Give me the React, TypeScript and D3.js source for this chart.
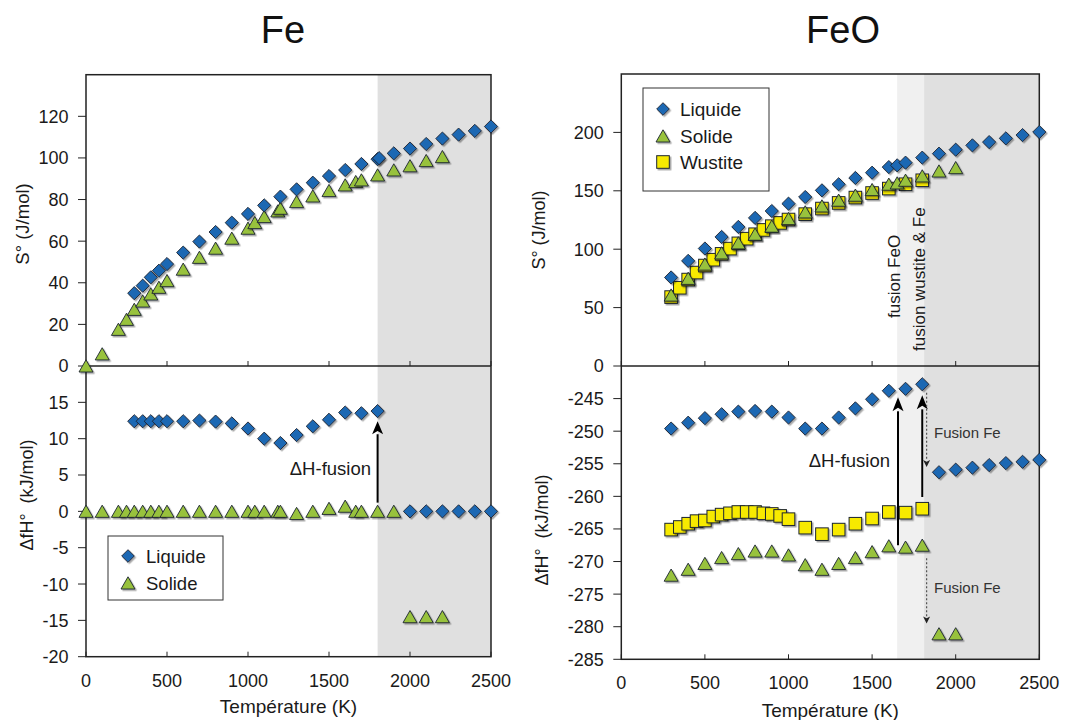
import React from "react";
import * as d3 from "d3";

// ---------- DATA ----------
// Fe – entropy
const feLiqST = [298, 350, 400, 450, 500, 600, 700, 800, 900, 1000, 1100, 1200, 1300, 1400, 1500, 1600, 1700, 1800, 1809, 1900, 2000, 2100, 2200, 2300, 2400, 2500];
const feLiqS = [35.0, 38.6, 42.6, 45.8, 49.0, 54.5, 59.8, 64.4, 68.9, 73.1, 77.2, 81.4, 84.9, 88.1, 91.3, 94.2, 97.1, 99.4, 99.9, 102.2, 104.5, 106.7, 109.3, 111.2, 113.0, 115.1];
const feSolT = [0, 100, 200, 250, 298, 350, 400, 450, 500, 600, 700, 800, 900, 1000, 1042, 1100, 1184, 1200, 1300, 1400, 1500, 1600, 1665, 1700, 1800, 1900, 2000, 2100, 2200];
const feSolS = [0, 5.8, 17.6, 22.4, 27.2, 31.2, 34.6, 37.8, 41.0, 46.5, 52.2, 56.6, 61.4, 66.2, 68.9, 71.8, 74.5, 75.8, 79.0, 81.7, 84.3, 87.0, 88.6, 89.4, 91.8, 94.2, 96.2, 98.7, 100.6];
// Fe – enthalpy of formation
const feLiqHT = [298, 350, 400, 450, 500, 600, 700, 800, 900, 1000, 1100, 1200, 1300, 1400, 1500, 1600, 1700, 1800, 2000, 2100, 2200, 2300, 2400, 2500];
const feLiqH = [12.4, 12.4, 12.4, 12.4, 12.4, 12.4, 12.5, 12.35, 12.1, 11.4, 10.0, 9.4, 10.5, 11.7, 12.6, 13.6, 13.5, 13.8, 0, 0, 0, 0, 0, 0];
const feSolH = [0, 0, 0, 0, 0, 0, 0, 0, 0, 0, 0, 0, 0, 0, 0, 0, 0, 0, -0.3, 0, 0.4, 0.7, 0, 0, 0, 0, -14.5, -14.5, -14.5];

// FeO – entropy
const feoLiqST = [298, 400, 500, 600, 700, 800, 900, 1000, 1100, 1200, 1300, 1400, 1500, 1600, 1650, 1700, 1800, 1900, 2000, 2100, 2200, 2300, 2400, 2500];
const feoLiqS = [75.8, 90.0, 100.6, 110.5, 119.1, 126.8, 132.7, 139.0, 144.7, 150.4, 155.6, 161.0, 165.5, 170.3, 171.8, 174.1, 178.4, 181.8, 185.2, 188.9, 191.7, 194.9, 197.7, 200.3];
const feoSolST = [298, 400, 500, 600, 700, 800, 900, 1000, 1100, 1200, 1300, 1400, 1500, 1600, 1650, 1700, 1800, 1900, 2000];
const feoSolS = [60.7, 75.0, 87.2, 96.8, 105.4, 112.8, 119.7, 126.2, 131.9, 137.0, 141.9, 146.2, 151.0, 155.6, 156.7, 159.0, 162.7, 166.9, 169.8];
const wusT = [298, 350, 400, 450, 500, 550, 600, 650, 700, 750, 800, 850, 900, 950, 1000, 1100, 1200, 1300, 1400, 1500, 1600, 1700, 1800];
const wusS = [59, 67, 74, 80, 86, 91, 96, 100.5, 105, 109, 112.8, 116.5, 119.7, 122.5, 125.4, 130, 134.8, 139.6, 144.2, 148.1, 151.9, 155.6, 159.0];
// FeO – enthalpy of formation
const feoLiqHT = [298, 400, 500, 600, 700, 800, 900, 1000, 1100, 1200, 1300, 1400, 1500, 1600, 1700, 1800, 1900, 2000, 2100, 2200, 2300, 2400, 2500];
const feoLiqH = [-249.6, -248.7, -248.0, -247.4, -247.0, -246.9, -247.0, -247.9, -249.6, -249.6, -247.9, -246.5, -245.1, -243.8, -243.5, -242.8, -256.3, -255.9, -255.6, -255.2, -254.9, -254.7, -254.4];
const feoSolHT = [298, 400, 500, 600, 700, 800, 900, 1000, 1100, 1200, 1300, 1400, 1500, 1600, 1700, 1800, 1900, 2000];
const feoSolH = [-272.1, -271.2, -270.3, -269.4, -268.8, -268.4, -268.4, -269.0, -270.5, -271.2, -270.3, -269.4, -268.5, -267.6, -267.8, -267.5, -281.1, -281.1];
const wusH = [-265.1, -264.7, -264.2, -263.8, -263.7, -263.1, -262.8, -262.6, -262.4, -262.4, -262.4, -262.6, -262.7, -263.0, -263.5, -264.8, -265.8, -265.1, -264.2, -263.4, -262.4, -262.5, -261.9];

const xTicks = [0, 500, 1000, 1500, 2000, 2500];
const feSTicks = [0, 20, 40, 60, 80, 100, 120];
const feHTicks = [-20, -15, -10, -5, 0, 5, 10, 15];
const feoSTicks = [0, 50, 100, 150, 200];
const feoHTicks = [-285, -280, -275, -270, -265, -260, -255, -250, -245];

// ---------- STYLE ----------
const FONT = "'Liberation Sans', Arial, Helvetica, sans-serif";
const BLUE = "#1f68b3";
const GREEN = "#98c23c";
const YELLOW = "#f7ea00";
const STROKE = "#1c2430";
const TXT = "#1a1a1a";
const TICK_FS = 18;

type P = { x: number; y: number };

const Diamond = ({ x, y, r = 6.6 }: P & { r?: number }) => (
  <path d={`M${x},${y - r}L${x + r},${y}L${x},${y + r}L${x - r},${y}Z`} fill={BLUE} stroke={STROKE} strokeWidth={0.9} filter="url(#sh)" />
);
const Tri = ({ x, y }: P) => (
  <path d={`M${x},${y - 6.2}L${x + 7},${y + 6}L${x - 7},${y + 6}Z`} fill={GREEN} stroke={STROKE} strokeWidth={0.9} filter="url(#sh)" />
);
const Sq = ({ x, y }: P) => (
  <rect x={x - 6.3} y={y - 6.3} width={12.6} height={12.6} fill={YELLOW} stroke={STROKE} strokeWidth={1} filter="url(#sh)" />
);

function Arrow({ x, y1, y2, dotted = false, head = 12, hw = 5 }: { x: number; y1: number; y2: number; dotted?: boolean; head?: number; hw?: number }) {
  const dir = y2 < y1 ? -1 : 1;
  const base = y2 - dir * head;
  return (
    <g>
      <line x1={x} y1={y1} x2={x} y2={base} stroke={dotted ? "#555" : "#000"} strokeWidth={dotted ? 1.2 : 2} strokeDasharray={dotted ? "2,2" : undefined} />
      <path d={`M${x},${y2}L${x + hw},${base}L${x},${base + dir * head * 0.25}L${x - hw},${base}Z`} fill={dotted ? "#222" : "#000"} />
    </g>
  );
}

export default function App() {
  // Left (Fe) panel geometry
  const xL = d3.scaleLinear().domain([0, 2500]).range([86, 491]);
  const ySL = d3.scaleLinear().domain([0, 140]).range([366, 74.7]);
  const yHL = d3.scaleLinear().domain([-20, 20]).range([656.7, 366]);
  // Right (FeO) panel geometry
  const xR = d3.scaleLinear().domain([0, 2500]).range([621.3, 1039.3]);
  const ySR = d3.scaleLinear().domain([0, 250]).range([366, 74]);
  const yHR = d3.scaleLinear().domain([-285, -240]).range([659.3, 366]);

  const L = { x0: xL(0), x1: xL(2500), top: ySL(140), mid: ySL(0), bot: yHL(-20) };
  const R = { x0: xR(0), x1: xR(2500), top: ySR(250), mid: ySR(0), bot: yHR(-285) };

  const yTickGroup = (ticks: number[], y: (v: number) => number, x0: number, key: string) =>
    ticks.map((t) => (
      <g key={key + t}>
        <line x1={x0 - 8} x2={x0} y1={y(t)} y2={y(t)} stroke="#222" strokeWidth={1} />
        <text x={x0 - 17.5} y={y(t)} dy="0.36em" textAnchor="end" fontSize={TICK_FS} fill={TXT}>
          {t}
        </text>
      </g>
    ));

  const xTickGroup = (x: (v: number) => number, mid: number, bot: number, key: string, labelY: number) =>
    xTicks.map((t) => (
      <g key={key + t}>
        <line x1={x(t)} x2={x(t)} y1={mid} y2={mid - 5} stroke="#222" strokeWidth={1} />
        <line x1={x(t)} x2={x(t)} y1={bot} y2={bot - 5} stroke="#222" strokeWidth={1} />
        <text x={x(t)} y={labelY} textAnchor="middle" fontSize={TICK_FS} fill={TXT}>
          {t}
        </text>
      </g>
    ));

  return (
    <svg width={1066} height={720} style={{ position: "absolute", left: 0, top: 0, background: "#fff" }} fontFamily={FONT}>
      <defs>
        <filter id="sh" x="-50%" y="-50%" width="200%" height="200%">
          <feDropShadow dx={1.5} dy={1.5} stdDeviation={0.7} floodColor="#000" floodOpacity={0.35} />
        </filter>
      </defs>
      <rect x={0} y={0} width={1066} height={720} fill="#fff" />

      {/* Titles */}
      <text x={283} y={43} textAnchor="middle" fontSize={38} fill="#111">Fe</text>
      <text x={843} y={43} textAnchor="middle" fontSize={38} fill="#111">FeO</text>

      {/* ===== LEFT PANEL (Fe) ===== */}
      <rect x={xL(1800)} y={L.top} width={xL(2500) - xL(1800)} height={L.bot - L.top} fill="#e0e0e0" />
      <rect x={L.x0} y={L.top} width={L.x1 - L.x0} height={L.bot - L.top} fill="none" stroke="#222" strokeWidth={1.5} />
      <line x1={L.x0} x2={L.x1} y1={L.mid} y2={L.mid} stroke="#222" strokeWidth={1.5} />
      {yTickGroup(feSTicks, ySL, L.x0, "lst")}
      {yTickGroup(feHTicks, yHL, L.x0, "lht")}
      {xTickGroup(xL, L.mid, L.bot, "lx", L.bot + 30)}
      <text transform={`translate(29,224) rotate(-90)`} textAnchor="middle" fontSize={18.5} fill={TXT}>S° (J/mol)</text>
      <text transform={`translate(33,495) rotate(-90)`} textAnchor="middle" fontSize={18} fill={TXT} style={{ whiteSpace: "pre" }}>{"ΔfH°  (kJ/mol)"}</text>
      <text x={(L.x0 + L.x1) / 2} y={713} textAnchor="middle" fontSize={19} fill={TXT}>Température (K)</text>

      {feSolT.map((t, i) => <Tri key={"ls" + i} x={xL(t)} y={ySL(feSolS[i])} />)}
      {feLiqST.map((t, i) => <Diamond key={"ll" + i} x={xL(t)} y={ySL(feLiqS[i])} />)}
      {feSolT.map((t, i) => <Tri key={"lhs" + i} x={xL(t)} y={yHL(feSolH[i])} />)}
      {feLiqHT.map((t, i) => <Diamond key={"lhl" + i} x={xL(t)} y={yHL(feLiqH[i])} />)}

      <Arrow x={xL(1800)} y1={yHL(1.2)} y2={yHL(12.4)} head={13} hw={5.5} />
      <text x={371} y={475} textAnchor="end" fontSize={18.5} fill={TXT}>ΔH-fusion</text>

      {/* Left legend */}
      <rect x={108} y={536} width={115} height={64} fill="#fff" stroke="#333" strokeWidth={1} />
      <Diamond x={128} y={556} r={6.3} />
      <text x={146} y={562.5} fontSize={18.5} fill={TXT}>Liquide</text>
      <Tri x={128} y={583} />
      <text x={146} y={589.5} fontSize={18.5} fill={TXT}>Solide</text>

      {/* ===== RIGHT PANEL (FeO) ===== */}
      <rect x={xR(1650)} y={R.top} width={xR(1811) - xR(1650)} height={R.bot - R.top} fill="#f0f0f0" />
      <rect x={xR(1811)} y={R.top} width={xR(2500) - xR(1811)} height={R.bot - R.top} fill="#e0e0e0" />
      <rect x={R.x0} y={R.top} width={R.x1 - R.x0} height={R.bot - R.top} fill="none" stroke="#222" strokeWidth={1.5} />
      <line x1={R.x0} x2={R.x1} y1={R.mid} y2={R.mid} stroke="#222" strokeWidth={1.5} />
      {yTickGroup(feoSTicks, ySR, R.x0, "rst")}
      {yTickGroup(feoHTicks, yHR, R.x0, "rht")}
      {xTickGroup(xR, R.mid, R.bot, "rx", R.bot + 30)}
      <text transform={`translate(545,230) rotate(-90)`} textAnchor="middle" fontSize={18} fill={TXT}>S° (J/mol)</text>
      <text transform={`translate(548,530) rotate(-90)`} textAnchor="middle" fontSize={18} fill={TXT} style={{ whiteSpace: "pre" }}>{"ΔfH°  (kJ/mol)"}</text>
      <text x={(R.x0 + R.x1) / 2} y={717} textAnchor="middle" fontSize={19} fill={TXT}>Température (K)</text>

      <text transform={`translate(900,318) rotate(-90)`} textAnchor="start" fontSize={17} fill={TXT}>fusion FeO</text>
      <text transform={`translate(925,351) rotate(-90)`} textAnchor="start" fontSize={17} fill={TXT}>fusion wustite &amp; Fe</text>

      {wusT.map((t, i) => <Sq key={"rw" + i} x={xR(t)} y={ySR(wusS[i])} />)}
      {feoSolST.map((t, i) => <Tri key={"rs" + i} x={xR(t)} y={ySR(feoSolS[i])} />)}
      {feoLiqST.map((t, i) => <Diamond key={"rl" + i} x={xR(t)} y={ySR(feoLiqS[i])} />)}

      {wusT.map((t, i) => <Sq key={"rhw" + i} x={xR(t)} y={yHR(wusH[i])} />)}
      {feoSolHT.map((t, i) => <Tri key={"rhs" + i} x={xR(t)} y={yHR(feoSolH[i])} />)}
      {feoLiqHT.map((t, i) => <Diamond key={"rhl" + i} x={xR(t)} y={yHR(feoLiqH[i])} />)}

      <Arrow x={xR(1655)} y1={yHR(-267.5)} y2={yHR(-244.8)} head={14} hw={5.5} />
      <Arrow x={xR(1800)} y1={yHR(-260.1)} y2={yHR(-244.5)} head={14} hw={5.5} />
      <text x={890} y={467} textAnchor="end" fontSize={18.5} fill={TXT}>ΔH-fusion</text>
      <Arrow x={xR(1826)} y1={yHR(-244.1)} y2={yHR(-255.5)} dotted head={7} hw={3.5} />
      <Arrow x={xR(1826)} y1={yHR(-269.5)} y2={yHR(-279.5)} dotted head={7} hw={3.5} />
      <text x={934} y={438} fontSize={15} fill="#333">Fusion Fe</text>
      <text x={934} y={592.5} fontSize={15} fill="#333">Fusion Fe</text>

      {/* Right legend */}
      <rect x={643} y={88} width={126} height={103} fill="#fff" stroke="#333" strokeWidth={1} />
      <Diamond x={663} y={109} r={6.3} />
      <text x={680} y={116} fontSize={19} fill={TXT}>Liquide</text>
      <Tri x={663} y={136} />
      <text x={680} y={143} fontSize={19} fill={TXT}>Solide</text>
      <Sq x={663} y={162} />
      <text x={680} y={169} fontSize={19} fill={TXT}>Wustite</text>
    </svg>
  );
}
